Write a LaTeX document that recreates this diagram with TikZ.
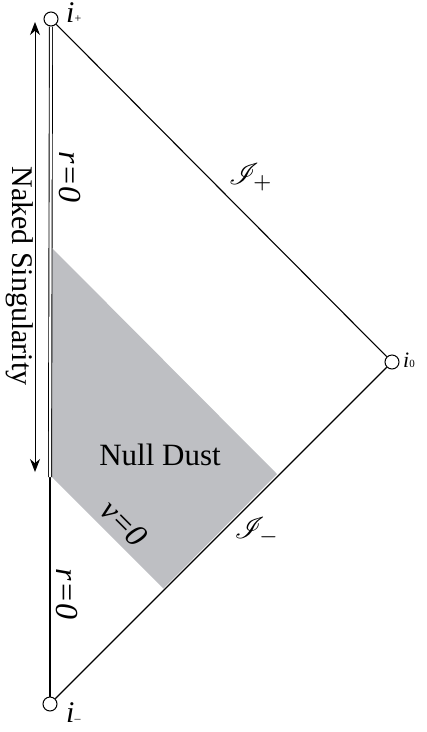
\documentclass[tikz,border=0pt]{standalone}
\usepackage{fontspec}
\setmainfont{Liberation Serif}
\usepackage{mathrsfs}
\usetikzlibrary{arrows.meta}
\definecolor{dustgray}{RGB}{190,191,195}
\begin{document}
\begin{tikzpicture}[x=1pt,y=-1pt,
  endpt/.style={circle,draw,fill=white,line width=1pt,minimum size=14pt,inner sep=0pt},
  bound/.style={line width=1.1pt},
  bigtext/.style={font=\fontsize{31}{34}\selectfont},
  itlabel/.style={font=\fontsize{32}{36}\selectfont\itshape,inner sep=0pt},
  ilabel/.style={font=\fontsize{30}{32}\selectfont\itshape,anchor=base west,inner sep=0pt},
  scri/.style={inner sep=0pt},
]
\useasboundingbox (0,0) rectangle (427,732);
% shaded null dust region
\fill[dustgray] (52,248) -- (52,477) -- (163.5,588.5) -- (277,474) -- cycle;
% endpoints
\node[endpt] (ip) at (51,19) {};
\node[endpt] (im) at (50,704) {};
\node[endpt] (io) at (392,362) {};
\coordinate (s) at (50,477);
% boundaries
\draw[bound] (ip) -- (io);
\draw[bound] (io) -- (im);
\draw[bound] (im) -- (s);
\draw[double, double distance=2.2pt, line width=0.9pt] (s) -- (ip);
% naked singularity arrow
\coordinate (at) at (35,22);
\coordinate (ab) at (35,472);
\draw[line width=1pt, {Stealth[length=13pt,width=10pt]}-{Stealth[length=13pt,width=10pt]}] (at) -- (ab);
\node[bigtext, rotate=-90, font=\fontsize{30}{34}\selectfont] (ns) at (20,276) {Naked Singularity};
% labels
\node[itlabel, rotate=-90] (r1) at (70,177) {r=0};
\node[itlabel, rotate=-90] (r2) at (67,594) {r=0};
\node[itlabel, rotate=-45] (v0) at (124,523) {v=0};
\node[bigtext] (nd) at (160,455) {Null Dust};
\node[ilabel] (lp) at (66,22) {i\raisebox{0pt}{\upshape\fontsize{12}{12}\selectfont +}};
\node[ilabel] (lm) at (66,722) {i\raisebox{0pt}{\upshape\fontsize{12}{12}\selectfont –}};
\node[ilabel, font=\fontsize{22}{26}\selectfont\itshape] (l0) at (403,367) {i\raisebox{0pt}{\upshape\fontsize{11}{11}\selectfont 0}};
\node[scri] (sp) at (251,177) {\scalebox{3}{$\mathscr{I}_{+}$}};
\node[scri] (sm) at (257,531) {\scalebox{3}{$\mathscr{I}_{-}$}};
\end{tikzpicture}
\end{document}
